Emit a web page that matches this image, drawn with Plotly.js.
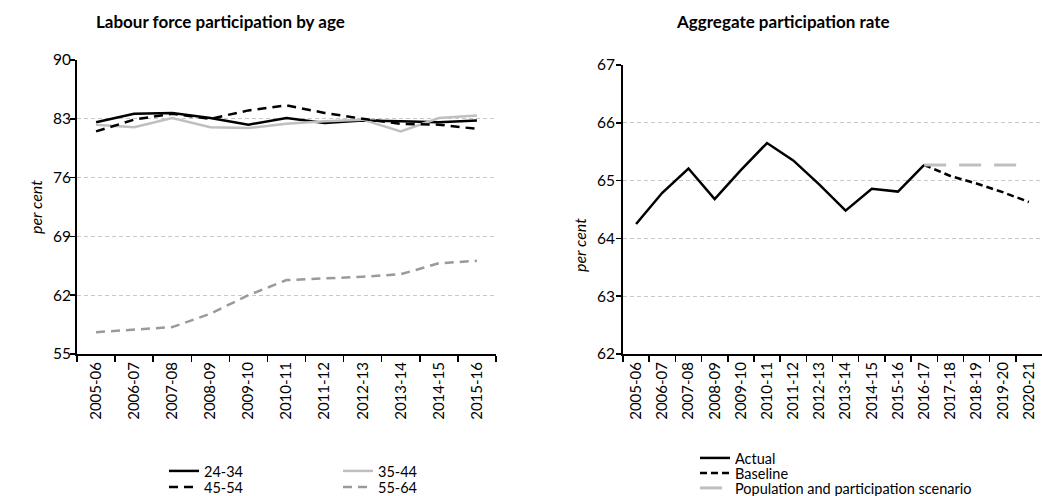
<!DOCTYPE html>
<html><head><meta charset="utf-8">
<script src="https://cdn.plot.ly/plotly-3.0.1.min.js"></script>
<style>html,body{margin:0;padding:0;background:#fff}#chart{width:1042px;height:496px}</style>
</head><body><div id="chart"></div>
<script>
// ---- data: left chart (labour force participation by age, per cent)
const yearsAge = ['2005-06','2006-07','2007-08','2008-09','2009-10','2010-11','2011-12','2012-13','2013-14','2014-15','2015-16'];
const age24to34 = [82.6, 83.6, 83.7, 83.1, 82.3, 83.1, 82.5, 82.8, 82.7, 82.6, 82.8];
const age35to44 = [82.3, 82.0, 83.1, 82.0, 81.9, 82.4, 82.7, 82.9, 81.5, 83.1, 83.4];
const age45to54 = [81.5, 82.9, 83.6, 83.0, 84.0, 84.6, 83.7, 83.0, 82.4, 82.3, 81.8];
const age55to64 = [57.6, 57.9, 58.2, 59.8, 62.0, 63.8, 64.0, 64.2, 64.5, 65.8, 66.1];

// ---- data: right chart (aggregate participation rate, per cent)
const yearsAgg = ['2005-06','2006-07','2007-08','2008-09','2009-10','2010-11','2011-12','2012-13','2013-14','2014-15','2015-16','2016-17','2017-18','2018-19','2019-20','2020-21'];
const actual   = [64.25, 64.79, 65.21, 64.68, 65.18, 65.65, 65.35, 64.93, 64.48, 64.86, 64.81, 65.27, null, null, null, null];
const baseline = [null, null, null, null, null, null, null, null, null, null, null, 65.27, 65.08, 64.95, 64.80, 64.63];
const scenario = [null, null, null, null, null, null, null, null, null, null, null, 65.27, 65.27, 65.27, 65.27, 65.27];

const ageTicksY = [55, 62, 69, 76, 83, 90];
const aggTicksY = [62, 63, 64, 65, 66, 67];

const W = 1042, H = 496;
const px = x => x / W;
const py = y => 1 - y / H;
const FONT = 'Lato, Carlito, Calibri, "Liberation Sans", Arial, sans-serif';

const traces = [
  {x: yearsAge, y: age24to34, name: '24-34', type: 'scatter', mode: 'lines', xaxis: 'x', yaxis: 'y',
   line: {color: '#000000', width: 2.5}, legend: 'legend'},
  {x: yearsAge, y: age35to44, name: '35-44', type: 'scatter', mode: 'lines', xaxis: 'x', yaxis: 'y',
   line: {color: '#BFBFBF', width: 2.5}, legend: 'legend'},
  {x: yearsAge, y: age45to54, name: '45-54', type: 'scatter', mode: 'lines', xaxis: 'x', yaxis: 'y',
   line: {color: '#000000', width: 2.5, dash: '9px,6px'}, legend: 'legend2'},
  {x: yearsAge, y: age55to64, name: '55-64', type: 'scatter', mode: 'lines', xaxis: 'x', yaxis: 'y',
   line: {color: '#9A9A9A', width: 2.5, dash: '9px,6px'}, legend: 'legend2'},
  {x: yearsAgg, y: actual, name: 'Actual', type: 'scatter', mode: 'lines', xaxis: 'x2', yaxis: 'y2',
   line: {color: '#000000', width: 2.5}, legend: 'legend3'},
  {x: yearsAgg, y: baseline, name: 'Baseline', type: 'scatter', mode: 'lines', xaxis: 'x2', yaxis: 'y2',
   line: {color: '#000000', width: 2.5, dash: '7px,4px'}, legend: 'legend4'},
  {x: yearsAgg, y: scenario, name: 'Population and participation scenario', type: 'scatter', mode: 'lines', xaxis: 'x2', yaxis: 'y2',
   line: {color: '#BFBFBF', width: 3, dash: '22px,13px'}, legend: 'legend5'}
];

const xBase = {
  type: 'category', tickson: 'boundaries', ticks: 'outside', ticklen: 6, tickwidth: 1.5, tickcolor: '#000',
  showline: true, linecolor: '#000', linewidth: 2, tickangle: -90, showgrid: false, zeroline: false,
  tickfont: {family: FONT, size: 15, color: '#000'}, fixedrange: true
};
const yBase = {
  ticks: 'outside', ticklen: 5, tickwidth: 1.5, tickcolor: '#000', showline: true, linecolor: '#000', linewidth: 2,
  showgrid: true, gridcolor: '#C8C8C8', gridwidth: 1, griddash: '4px,3px', zeroline: false,
  tickfont: {family: FONT, size: 15.5, color: '#000'}, fixedrange: true
};
const legBase = {orientation: 'h', xanchor: 'left', yanchor: 'middle', bgcolor: 'rgba(0,0,0,0)',
  borderwidth: 0, font: {family: FONT, size: 14.5, color: '#000'}, itemclick: false, itemdoubleclick: false};

const layout = {
  width: W, height: H, margin: {l: 0, r: 0, t: 0, b: 0, autoexpand: false},
  paper_bgcolor: '#fff', plot_bgcolor: '#fff', showlegend: true, hovermode: false,
  font: {family: FONT, size: 15, color: '#000'},
  xaxis: Object.assign({}, xBase, {domain: [px(77), px(496)], anchor: 'y', range: [-0.5, yearsAge.length - 0.5]}),
  yaxis: Object.assign({}, yBase, {domain: [py(354), py(60)], anchor: 'x', range: [55, 90], tickvals: ageTicksY, ticklabelstandoff: -4}),
  xaxis2: Object.assign({}, xBase, {domain: [px(623), 1], anchor: 'y2', range: [-0.5, yearsAgg.length - 0.5]}),
  yaxis2: Object.assign({}, yBase, {domain: [py(354), py(65)], anchor: 'x2', range: [62, 67], tickvals: aggTicksY, ticklabelstandoff: -2}),
  legend:  Object.assign({}, legBase, {x: px(164), y: py(471), entrywidth: 129}),
  legend2: Object.assign({}, legBase, {x: px(164), y: py(487), entrywidth: 129}),
  legend3: Object.assign({}, legBase, {x: px(695), y: py(458)}),
  legend4: Object.assign({}, legBase, {x: px(695), y: py(473)}),
  legend5: Object.assign({}, legBase, {x: px(695), y: py(488)}),
  annotations: [
    {text: 'Labour force participation by age', xref: 'paper', yref: 'paper', x: px(220), y: py(22),
     xanchor: 'center', yanchor: 'middle', showarrow: false, font: {family: FONT, size: 17, color: '#000', weight: 'bold'}},
    {text: 'Aggregate participation rate', xref: 'paper', yref: 'paper', x: px(783), y: py(22),
     xanchor: 'center', yanchor: 'middle', showarrow: false, font: {family: FONT, size: 17, color: '#000', weight: 'bold'}},
    {text: '<i>per cent</i>', xref: 'paper', yref: 'paper', x: px(35), y: py(207), textangle: -90,
     xanchor: 'center', yanchor: 'middle', showarrow: false, font: {family: FONT, size: 16, color: '#000'}},
    {text: '<i>per cent</i>', xref: 'paper', yref: 'paper', x: px(580), y: py(245), textangle: -90,
     xanchor: 'center', yanchor: 'middle', showarrow: false, font: {family: FONT, size: 16, color: '#000'}}
  ]
};

Plotly.newPlot('chart', traces, layout, {staticPlot: true, displayModeBar: false});
</script>
</body></html>
